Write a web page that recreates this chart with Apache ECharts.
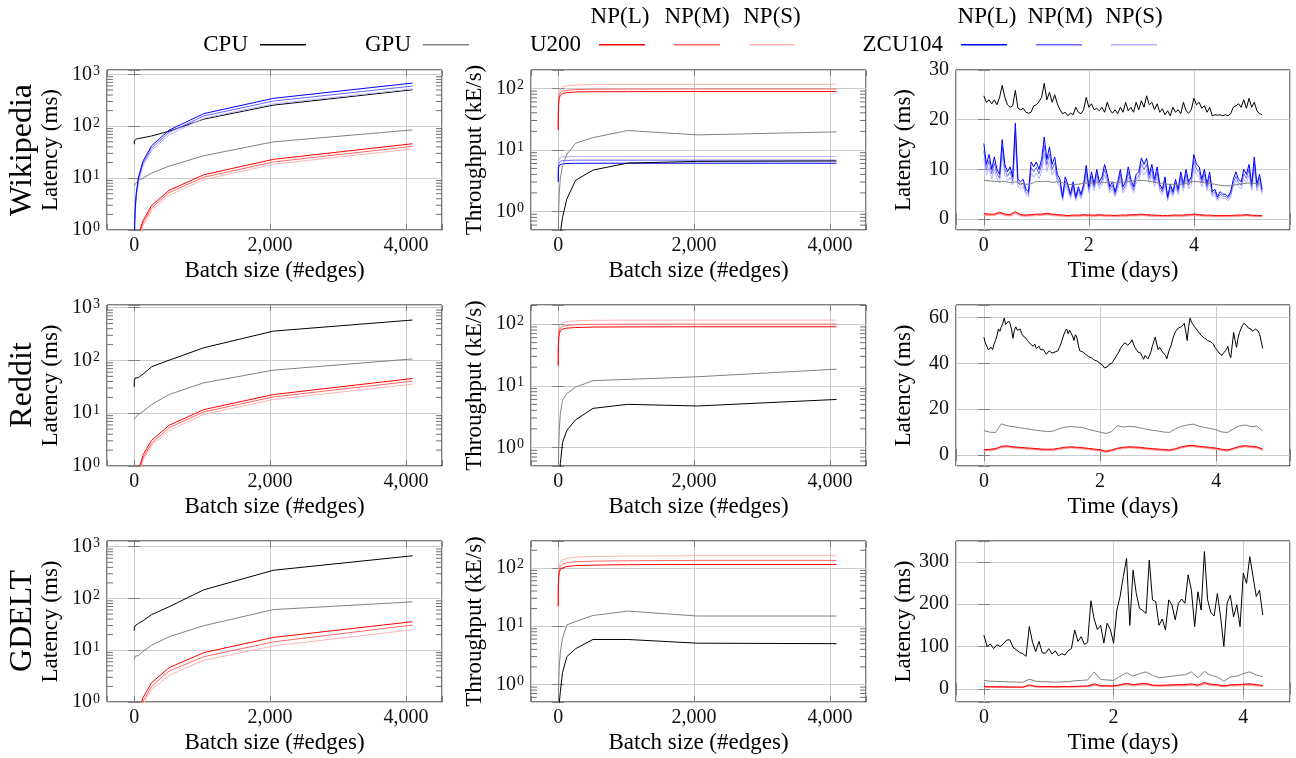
<!DOCTYPE html>
<html><head><meta charset="utf-8">
<script src="https://cdn.jsdelivr.net/npm/echarts@6/dist/echarts.min.js"></script>
<style>html,body{margin:0;padding:0;background:#fff}#c{width:1296px;height:758px}</style>
</head><body><div id="c"></div>
<script>
// ---------------- data ----------------
const batch = [1, 2, 4, 8, 16, 32, 64, 128, 256, 512, 1024, 2048, 4096];

// Wikipedia latency (ms)
const wikiLatCPU   = [45, 52, 54, 55, 56, 57, 58, 60, 65, 80, 137, 255, 505];
const wikiLatGPU   = [7.0, 7.1, 7.2, 7.4, 7.7, 8.2, 9.0, 10.0, 12.5, 17, 27, 50, 85];
const wikiLatU200L = [0.05, 0.07, 0.09, 0.14, 0.23, 0.42, 0.8, 1.5, 2.95, 5.8, 11.6, 23, 46];
const wikiLatU200M = [0.045, 0.06, 0.08, 0.12, 0.21, 0.38, 0.72, 1.35, 2.65, 5.25, 10.4, 20.5, 41];
const wikiLatU200S = [0.04, 0.055, 0.07, 0.11, 0.19, 0.34, 0.64, 1.2, 2.35, 4.65, 9.3, 18.5, 36.5];
const wikiLatZCUL  = [0.33, 0.5, 0.85, 1.5, 2.8, 5.3, 10.5, 21, 42, 84, 175, 345, 680];
const wikiLatZCUM  = [0.32, 0.47, 0.78, 1.4, 2.6, 4.9, 9.6, 19, 38, 76, 158, 305, 595];
const wikiLatZCUS  = [0.3, 0.43, 0.7, 1.25, 2.3, 4.4, 8.6, 17, 34, 68, 143, 270, 525];
// Wikipedia throughput (kE/s)
const wikiTpCPU   = [0.02, 0.04, 0.08, 0.15, 0.28, 0.45, 0.8, 1.6, 3.2, 4.7, 6.1, 6.5, 6.6];
const wikiTpGPU   = [0.14, 0.28, 0.55, 1.1, 2.0, 3.5, 5.5, 8.5, 12.8, 15.8, 20.6, 17.5, 19.6];
const wikiTpU200L = [21, 33, 47, 60, 70, 77, 82, 85, 87, 88, 88, 88.5, 88.5];
const wikiTpU200M = [21.5, 35, 51, 66, 77, 85, 90, 93, 95, 96.5, 97, 97.5, 97.5];
const wikiTpU200S = [22, 37, 56, 74, 88, 98, 105, 110, 113, 115, 116, 116, 116];
const wikiTpZCUL  = [3.0, 4.0, 4.8, 5.3, 5.6, 5.8, 5.9, 6.0, 6.05, 6.07, 6.07, 6.07, 6.07];
const wikiTpZCUM  = [3.1, 4.3, 5.3, 5.9, 6.3, 6.5, 6.7, 6.75, 6.8, 6.8, 6.8, 6.8, 6.8];
const wikiTpZCUS  = [3.2, 4.7, 6.0, 6.8, 7.3, 7.6, 7.7, 7.75, 7.8, 7.8, 7.8, 7.8, 7.8];

// Reddit latency (ms)
const redLatCPU   = [31.6, 42, 45, 46, 46.5, 47, 47.5, 55, 76, 101, 174, 360, 584];
const redLatGPU   = [7.6, 7.7, 7.8, 8.0, 8.3, 8.8, 9.5, 10.8, 14.6, 22.6, 37.7, 65.5, 107];
const redLatU200L = [0.05, 0.07, 0.09, 0.14, 0.23, 0.42, 0.8, 1.6, 3.07, 5.9, 11.7, 22.6, 45.5];
const redLatU200M = [0.045, 0.06, 0.08, 0.12, 0.21, 0.38, 0.72, 1.42, 2.7, 5.3, 10.6, 20.4, 40.5];
const redLatU200S = [0.04, 0.055, 0.07, 0.11, 0.19, 0.34, 0.64, 1.27, 2.45, 4.7, 9.5, 18.2, 35.5];
// Reddit throughput (kE/s)
const redTpCPU   = [0.03, 0.05, 0.09, 0.17, 0.3, 0.55, 1.2, 1.9, 2.8, 4.3, 5.0, 4.7, 6.0];
const redTpGPU   = [0.13, 0.26, 0.5, 1.0, 1.9, 3.6, 5.8, 7.5, 9.5, 12.1, 12.7, 14.0, 18.6];
const redTpU200L = [21, 33, 47, 60, 70, 78, 83, 86, 88, 89.5, 90, 90.5, 90.5];
const redTpU200M = [21.5, 35, 51, 66, 78, 86, 92, 95, 97.5, 99, 100, 100, 100];
const redTpU200S = [22, 37, 56, 74, 89, 99, 106, 110, 113, 115, 116, 116, 116];

// GDELT latency (ms)
const gdLatCPU   = [23.8, 27, 28, 29, 30, 31, 33, 37, 48.7, 69, 147, 351, 668];
const gdLatGPU   = [6.7, 7.0, 7.3, 7.5, 7.7, 7.8, 7.9, 9.5, 12.5, 18.2, 29.8, 61, 86];
const gdLatU200L = [0.04, 0.05, 0.07, 0.11, 0.18, 0.33, 0.62, 1.2, 2.35, 4.6, 9.0, 17.7, 35.6];
const gdLatU200M = [0.035, 0.045, 0.06, 0.09, 0.15, 0.28, 0.53, 1.02, 2.0, 3.96, 7.5, 14.5, 30.7];
const gdLatU200S = [0.03, 0.04, 0.05, 0.08, 0.13, 0.24, 0.45, 0.88, 1.74, 3.26, 6.4, 12.1, 24.9];
// GDELT throughput (kE/s)
const gdTpCPU   = [0.04, 0.07, 0.14, 0.26, 0.48, 0.75, 1.6, 3.0, 4.1, 5.9, 5.9, 5.1, 5.0];
const gdTpGPU   = [0.15, 0.29, 0.55, 1.05, 2.0, 3.6, 6.2, 10.5, 12.0, 15.2, 18.1, 14.9, 14.9];
const gdTpU200L = [22, 36, 53, 70, 83, 93, 100, 105, 109, 111, 113, 114, 114];
const gdTpU200M = [22, 37, 57, 77, 94, 106, 115, 122, 127, 130, 132, 134, 134];
const gdTpU200S = [22, 39, 61, 85, 107, 124, 136, 145, 152, 156, 159, 161, 161];

// Time series (latency in ms), sampling step in days
const wikiStepFine = 0.05, wikiStepCoarse = 0.1;
const wikiTimeCPU = [24.8, 23.5, 24.0, 23.2, 24.0, 23.0, 24.5, 26.9, 24.5, 23.0,
  22.5, 22.8, 25.9, 22.3, 22.0, 22.3, 21.5, 21.3, 21.5, 22.8,
  23.0, 23.6, 24.5, 27.3, 24.0, 25.5, 23.5, 25.0, 23.2, 22.0,
  21.2, 21.5, 20.8, 21.3, 21.0, 22.5, 21.5, 21.2, 22.0, 24.5,
  22.5, 23.2, 22.0, 22.3, 21.8, 22.5, 21.5, 23.5, 22.0, 21.3,
  22.0, 21.2, 22.5, 21.5, 23.5, 21.8, 22.5, 21.5, 23.5, 22.0,
  23.8, 22.5, 24.8, 23.0, 23.5, 22.0, 23.2, 21.5, 22.2, 21.0,
  21.8, 20.8, 22.5, 21.5, 22.0, 21.2, 23.5, 21.8, 21.3, 22.0,
  24.3, 23.0, 23.5, 22.3, 22.8, 21.5, 22.5, 20.8, 21.0, 20.9,
  21.0, 20.8, 21.0, 20.8, 21.2, 22.5, 22.8, 23.2, 22.5, 24.0,
  22.3, 24.3, 22.5, 23.5, 21.8, 21.2, 21.0];
const wikiTimeZCUL = [15.2, 11, 13, 10, 12.5, 10, 9, 16, 11, 9.5,
  10.5, 8.5, 19.3, 8, 7.5, 8, 6, 5.5, 11.5, 10.5,
  11.5, 10, 12, 16.5, 12, 14.5, 11, 12.5, 9, 8,
  4.5, 8.5, 7, 5, 7.5, 4.5, 6.5, 5, 7, 10.8,
  6.5, 9.5, 7, 10, 7.5, 8.5, 11, 9, 6.5, 7.5,
  5.5, 7.5, 10, 6.5, 7.5, 10.5, 8, 6.5, 9, 9.5,
  12.3, 11, 12.2, 9, 11, 8, 10.5, 7, 6, 8.5,
  4.5, 7, 5.5, 8, 6, 9.5, 7, 10, 7.5, 8.5,
  13, 11, 10.5, 8, 10, 7, 9.5, 5.5, 6, 4.5,
  5.5, 5, 5, 4.5, 5.5, 8, 9.5, 8, 7.5, 10,
  9, 11, 7, 12.5, 7, 9, 6];
const wikiTimeZCUM = [13.8, 10, 11.8, 9.1, 11.3, 9.1, 8.2, 14.5, 10, 8.6,
  9.5, 7.7, 17.4, 7.3, 6.8, 7.3, 5.5, 5, 10.4, 9.5,
  10.4, 9.1, 10.9, 14.9, 10.9, 13.1, 10, 11.3, 8.2, 7.3,
  4.1, 7.7, 6.4, 4.6, 6.8, 4.1, 5.9, 4.6, 6.4, 9.8,
  5.9, 8.6, 6.4, 9.1, 6.8, 7.7, 10, 8.2, 5.9, 6.8,
  5, 6.8, 9.1, 5.9, 6.8, 9.5, 7.3, 5.9, 8.2, 8.6,
  11.1, 10, 11, 8.2, 10, 7.3, 9.5, 6.4, 5.5, 7.7,
  4.1, 6.4, 5, 7.3, 5.5, 8.6, 6.4, 9.1, 6.8, 7.7,
  11.8, 10, 9.5, 7.3, 9.1, 6.4, 8.6, 5, 5.5, 4.1,
  5, 4.6, 4.6, 4.1, 5, 7.3, 8.6, 7.3, 6.8, 9.1,
  8.2, 10, 6.4, 11.3, 6.4, 8.2, 5.5];
const wikiTimeZCUS = [12.2, 8.9, 10.4, 8.1, 10, 8.1, 7.3, 12.8, 8.9, 7.7,
  8.4, 6.9, 15.3, 6.5, 6.1, 6.5, 4.9, 4.5, 9.2, 8.4,
  9.2, 8.1, 9.6, 13.2, 9.6, 11.6, 8.9, 10, 7.3, 6.5,
  3.7, 6.9, 5.7, 4.1, 6.1, 3.7, 5.3, 4.1, 5.7, 8.7,
  5.3, 7.7, 5.7, 8.1, 6.1, 6.9, 8.9, 7.3, 5.3, 6.1,
  4.5, 6.1, 8.1, 5.3, 6.1, 8.4, 6.5, 5.3, 7.3, 7.7,
  9.8, 8.9, 9.8, 7.3, 8.9, 6.5, 8.4, 5.7, 4.9, 6.9,
  3.7, 5.7, 4.5, 6.5, 4.9, 7.7, 5.7, 8.1, 6.1, 6.9,
  10.4, 8.9, 8.4, 6.5, 8.1, 5.7, 7.7, 4.5, 4.9, 3.7,
  4.5, 4.1, 4.1, 3.7, 4.5, 6.5, 7.7, 6.5, 6.1, 8.1,
  7.3, 8.9, 5.7, 10, 5.7, 7.3, 4.9];
const wikiTimeGPU = [7.8, 7.7, 7.6, 7.5, 7.6, 7.3, 7.5, 7.2, 7.0, 7.1,
  7.6, 7.5, 7.6, 7.4, 7.5, 7.3, 6.9, 7.0, 7.0, 7.2,
  7.3, 7.2, 7.4, 7.3, 7.5, 7.3, 7.4, 7.5, 7.6, 7.8,
  7.8, 7.7, 7.5, 7.3, 7.2, 7.0, 7.0, 6.9, 7.1, 7.3,
  7.6, 7.5, 7.3, 7.2, 7.0, 6.8, 6.7, 6.7, 6.9, 7.1,
  7.2, 7.3, 7.1, 7.0];
const wikiTimeU200L = [1.1, 1.0, 1.0, 1.4, 1.0, 0.9, 1.5, 0.9, 0.8, 0.9,
  1.0, 1.0, 1.2, 1.0, 0.9, 0.8, 0.7, 0.8, 0.8, 0.9,
  0.8, 0.8, 0.9, 0.8, 0.8, 0.7, 0.8, 0.8, 0.9, 0.9,
  1.0, 0.9, 0.8, 0.8, 0.7, 0.7, 0.8, 0.8, 0.8, 0.9,
  1.0, 0.9, 0.8, 0.8, 0.7, 0.7, 0.7, 0.7, 0.8, 0.8,
  0.9, 0.8, 0.7, 0.7];
const wikiTimeU200M = [0.9, 0.85, 0.85, 1.2, 0.85, 0.75, 1.3, 0.75, 0.65, 0.75,
  0.85, 0.85, 1.0, 0.85, 0.75, 0.65, 0.6, 0.65, 0.65, 0.75,
  0.65, 0.65, 0.75, 0.65, 0.65, 0.6, 0.65, 0.65, 0.75, 0.75,
  0.85, 0.75, 0.65, 0.65, 0.6, 0.6, 0.65, 0.65, 0.65, 0.75,
  0.85, 0.75, 0.65, 0.65, 0.6, 0.6, 0.6, 0.6, 0.65, 0.65,
  0.75, 0.65, 0.6, 0.6];
const wikiTimeU200S = [0.75, 0.7, 0.7, 1.0, 0.7, 0.6, 1.1, 0.6, 0.55, 0.6,
  0.7, 0.7, 0.85, 0.7, 0.6, 0.55, 0.5, 0.55, 0.55, 0.6,
  0.55, 0.55, 0.6, 0.55, 0.55, 0.5, 0.55, 0.55, 0.6, 0.6,
  0.7, 0.6, 0.55, 0.55, 0.5, 0.5, 0.55, 0.55, 0.55, 0.6,
  0.7, 0.6, 0.55, 0.55, 0.5, 0.5, 0.5, 0.5, 0.55, 0.55,
  0.6, 0.55, 0.5, 0.5];

const redStepCPU = 0.025, redStepCoarse = 0.1;
const redTimeCPU = [51.5, 49.0, 47.5, 46.0, 45.5, 47.0, 46.0, 48.5, 50.0, 52.0,
  55.0, 54.0, 56.0, 57.5, 59.8, 57.0, 56.5, 58.5, 57.5, 55.0,
  51.0, 54.5, 56.0, 54.5, 54.0, 55.0, 53.0, 52.0, 51.5, 51.0,
  50.0, 49.5, 48.5, 48.0, 47.5, 48.5, 46.5, 47.0, 47.5, 46.0,
  45.5, 46.0, 45.0, 44.0, 44.5, 45.5, 45.2, 44.5, 44.0, 45.0,
  44.5, 45.5, 47.0, 48.5, 50.5, 52.5, 54.0, 55.0, 53.0, 54.5,
  55.3, 52.0, 50.0, 52.5, 51.5, 48.0, 45.5, 46.0, 45.0, 44.5,
  44.0, 43.5, 43.0, 43.5, 42.5, 42.0, 41.5, 42.0, 41.0, 40.5,
  40.0, 39.5, 39.0, 38.0, 37.5, 38.5, 39.5, 39.0, 40.0, 41.0,
  41.5, 43.0, 44.0, 45.0, 46.5, 47.5, 48.0, 49.0, 48.5, 48.0,
  47.5, 49.0, 50.3, 48.5, 47.0, 46.0, 45.0, 45.5, 44.5, 43.0,
  41.8, 43.5, 43.0, 42.0, 42.5, 45.0, 47.5, 49.5, 51.5, 48.5,
  46.0, 47.0, 46.5, 45.0, 45.5, 43.5, 42.0, 44.5, 46.5, 48.0,
  50.5, 52.5, 54.0, 54.5, 55.5, 55.0, 56.0, 56.5, 57.5, 54.0,
  50.0, 56.0, 59.8, 58.0, 57.0, 56.0, 55.5, 54.5, 53.5, 53.0,
  52.0, 51.5, 51.0, 51.5, 50.0, 50.5, 49.5, 49.0, 48.5, 47.0,
  46.5, 45.5, 44.5, 44.0, 43.5, 44.5, 44.0, 46.0, 47.5, 44.0,
  42.5, 48.0, 53.5, 50.0, 47.0, 51.0, 53.5, 55.0, 56.5, 57.5,
  58.0, 56.5, 55.5, 55.0, 55.0, 54.0, 54.5, 55.0, 55.5, 54.0,
  52.5, 49.5, 46.5];
const redTimeGPU = [10.6, 10.0, 9.8, 13.6, 12.8, 12.4, 12.0, 11.6, 11.2, 10.8,
  10.5, 10.2, 10.5, 11.5, 12.2, 12.4, 12.2, 12.0, 11.2, 10.6,
  10.0, 9.4, 10.2, 12.8, 12.2, 12.5, 12.3, 11.8, 11.2, 10.8,
  10.5, 10.0, 9.9, 11.5, 12.5, 13.1, 13.5, 12.6, 12.0, 11.6,
  11.0, 10.0, 9.9, 11.5, 12.7, 13.1, 12.4, 12.6, 10.5];
const redTimeU200L = [2.3, 2.5, 2.8, 3.8, 4.0, 3.6, 3.4, 3.2, 3.0, 2.8,
  2.6, 2.5, 2.6, 3.0, 3.4, 3.6, 3.4, 3.2, 2.9, 2.6,
  2.3, 1.7, 2.2, 3.0, 3.4, 3.6, 3.5, 3.3, 3.0, 2.8,
  2.6, 2.4, 2.2, 2.8, 3.6, 4.1, 4.2, 3.8, 3.6, 3.3,
  3.0, 2.5, 2.2, 3.0, 3.8, 4.1, 3.8, 3.6, 2.6];
const redTimeU200M = [2.0, 2.2, 2.5, 3.5, 3.7, 3.3, 3.1, 2.9, 2.7, 2.5,
  2.3, 2.2, 2.3, 2.7, 3.1, 3.3, 3.1, 2.9, 2.6, 2.3,
  2.0, 1.4, 1.9, 2.7, 3.1, 3.3, 3.2, 3.0, 2.7, 2.5,
  2.3, 2.1, 1.9, 2.5, 3.3, 3.8, 3.9, 3.5, 3.3, 3.0,
  2.7, 2.2, 1.9, 2.7, 3.5, 3.8, 3.5, 3.3, 2.3];
const redTimeU200S = [1.7, 1.9, 2.2, 3.2, 3.4, 3.0, 2.8, 2.6, 2.4, 2.2,
  2.0, 1.9, 2.0, 2.4, 2.8, 3.0, 2.8, 2.6, 2.3, 2.0,
  1.7, 1.1, 1.6, 2.4, 2.8, 3.0, 2.9, 2.7, 2.4, 2.2,
  2.0, 1.8, 1.6, 2.2, 3.0, 3.5, 3.6, 3.2, 3.0, 2.7,
  2.4, 1.9, 1.6, 2.4, 3.2, 3.5, 3.2, 3.0, 2.0];

const gdStepFine = 0.05, gdStepCoarse = 0.1;
const gdTimeCPU = [127, 100, 106, 95, 104, 100, 106, 115, 116, 98,
  92, 86, 83, 77, 147, 110, 88, 112, 85, 84,
  95, 82, 90, 78, 83, 80, 90, 95, 139, 112,
  123, 105, 110, 208, 165, 140, 150, 108, 155, 140,
  108, 186, 218, 265, 308, 150, 280, 225, 190, 185,
  178, 304, 210, 206, 150, 165, 139, 210, 198, 163,
  202, 212, 202, 269, 233, 147, 229, 186, 324, 210,
  180, 172, 225, 170, 100, 202, 221, 170, 198, 147,
  273, 249, 312, 265, 218, 233, 174];
const gdTimeGPU = [19.6, 18, 17.5, 17, 16.5, 16, 15.5, 23, 18, 17,
  16.5, 16, 16.5, 17, 19, 20, 21, 40, 22, 21,
  20, 30, 38, 30, 36, 40, 32, 26, 28, 30,
  32, 33, 40, 26, 41, 32, 28, 18, 28, 30,
  36, 40, 33, 29];
const gdTimeU200L = [5.5, 5, 5, 4.8, 4.5, 4.5, 4.2, 9.4, 6, 5.5,
  5.5, 5, 5.5, 5.5, 6, 6.5, 7, 11.8, 7.5, 7.5,
  7, 10, 13, 10, 12, 13, 9, 8.5, 9, 9.5,
  10, 10, 12, 9, 15, 11, 10, 7, 9.5, 10,
  11, 12, 10, 8];
const gdTimeU200M = [4.7, 4.3, 4.3, 4.1, 3.8, 3.8, 3.6, 8, 5.1, 4.7,
  4.7, 4.3, 4.7, 4.7, 5.1, 5.5, 6, 10, 6.4, 6.4,
  6, 8.5, 11, 8.5, 10.2, 11, 7.7, 7.2, 7.7, 8.1,
  8.5, 8.5, 10.2, 7.7, 12.8, 9.4, 8.5, 6, 8.1, 8.5,
  9.4, 10.2, 8.5, 6.8];
const gdTimeU200S = [3.9, 3.5, 3.5, 3.4, 3.2, 3.2, 2.9, 6.6, 4.2, 3.9,
  3.9, 3.5, 3.9, 3.9, 4.2, 4.6, 4.9, 8.3, 5.3, 5.3,
  4.9, 7, 9.1, 7, 8.4, 9.1, 6.3, 6, 6.3, 6.7,
  7, 7, 8.4, 6.3, 10.5, 7.7, 7, 4.9, 6.7, 7,
  7.7, 8.4, 7, 5.6];

const rowNames = ['Wikipedia', 'Reddit', 'GDELT'];

// ---------------- chart ----------------
const FONT = '"Liberation Serif","Times New Roman",serif';
const COLORS = {
  'CPU': '#000000', 'GPU': '#808080',
  'U200 NP(L)': '#ff0000', 'U200 NP(M)': '#ff6666', 'U200 NP(S)': '#ffb3b3',
  'ZCU104 NP(L)': '#0000ff', 'ZCU104 NP(M)': '#6666ff', 'ZCU104 NP(S)': '#b3b3ff'
};
const colL = [107, 531, 956], colW = [335, 335, 334];
const rowT = [70, 305, 541], rowH = [160, 161, 161];

const grids = [], xAxes = [], yAxes = [], series = [];
const tickStyle = {show: true, inside: true, length: 6, lineStyle: {color: '#808080', width: 1}};
const gridLine = {show: true, lineStyle: {color: '#cccccc', width: 1}};

function times(n, step) { return Array.from({length: n}, (_, i) => Math.round(i * step * 1000) / 1000); }
function commas(v) { return String(v).replace(/\B(?=(\d{3})+(?!\d))/g, ','); }
function onStep(v, s) { return Math.abs(v / s - Math.round(v / s)) < 1e-7; }

// log-axis minor tick positions (2..9 times each power of ten)
const minorVals = [];
for (let k = -1; k <= 3; k++) for (let m = 2; m <= 9; m++) minorVals.push(+(m * Math.pow(10, k)).toPrecision(3));

function addPanel(r, c, xc, yc, lines) {
  const gi = grids.length;
  grids.push({left: colL[c], top: rowT[r], width: colW[c], height: rowH[r], show: true,
    borderColor: '#000', borderWidth: 1, containLabel: false, outerBoundsMode: 'none'});
  const xBase = {type: 'value', gridIndex: gi, min: xc.min, max: xc.max, splitNumber: xc.split};
  xAxes.push(Object.assign({}, xBase, {
    position: 'bottom', axisLine: {show: false}, axisTick: tickStyle, splitLine: gridLine,
    axisLabel: {fontFamily: FONT, fontSize: 20, color: '#111', margin: 6,
      formatter: v => (v >= 0 && onStep(v, xc.step)) ? (xc.comma ? commas(v) : String(v)) : ''},
    name: xc.name, nameLocation: 'middle', nameGap: 29,
    nameTextStyle: {fontFamily: FONT, fontSize: 23, color: '#000'}
  }));
  xAxes.push(Object.assign({}, xBase, {
    position: 'top', axisLine: {show: false}, axisTick: tickStyle, splitLine: {show: false}, axisLabel: {show: false}
  }));
  const yBase = yc.log ? {type: 'log', logBase: 10, gridIndex: gi, min: yc.min, max: yc.max}
                       : {type: 'value', gridIndex: gi, min: yc.min, max: yc.max, splitNumber: 3};
  const yFmt = yc.log
    ? (v => { const e = Math.log10(v), rr = Math.round(e); return Math.abs(e - rr) < 1e-6 ? '{b|10}{s|' + rr + '}' : ''; })
    : (v => onStep(v, yc.step) ? String(Math.round(v)) : '');
  yAxes.push(Object.assign({}, yBase, {
    position: 'left', axisLine: {show: false}, axisTick: tickStyle, splitLine: gridLine,
    axisLabel: {fontFamily: FONT, fontSize: 20, color: '#111', margin: 7, formatter: yFmt,
      rich: {b: {fontFamily: FONT, fontSize: 20, color: '#111'},
             s: {fontFamily: FONT, fontSize: 14, color: '#111', verticalAlign: 'top', padding: [0, 0, 0, 1]}}},
    name: yc.name, nameLocation: 'middle', nameGap: yc.gap, nameRotate: 90,
    nameTextStyle: {fontFamily: FONT, fontSize: 23, color: '#000'}
  }));
  yAxes.push(Object.assign({}, yBase, {
    position: 'right', axisLine: {show: false}, axisTick: tickStyle, splitLine: {show: false}, axisLabel: {show: false}
  }));
  const ax = 2 * gi;
  if (yc.log) {
    const inRange = minorVals.filter(v => v > yc.min && v < yc.max);
    series.push({type: 'custom', coordinateSystem: 'cartesian2d', xAxisIndex: ax, yAxisIndex: ax,
      silent: true, clip: false, z: 4, animation: false,
      data: inRange.map(v => [xc.min, v]),
      renderItem: (params, api) => {
        const v = api.value(1);
        const pl = api.coord([xc.min, v]);
        const pr = api.coord([xc.max, v]);
        return {type: 'group', children: [
          {type: 'line', shape: {x1: pl[0], y1: pl[1], x2: pl[0] + 6, y2: pl[1]}, style: {stroke: '#707070', lineWidth: 1}},
          {type: 'line', shape: {x1: pr[0] - 6, y1: pr[1], x2: pr[0], y2: pr[1]}, style: {stroke: '#707070', lineWidth: 1}}
        ]};
      }});
  }
  lines.forEach(([name, xs, ys]) => {
    series.push({type: 'line', name, xAxisIndex: ax, yAxisIndex: ax,
      data: ys.map((y, i) => [xs[i], y]),
      showSymbol: false, symbol: 'none', animation: false, z: 3,
      lineStyle: {color: COLORS[name], width: 1}, itemStyle: {color: COLORS[name]}});
  });
}

const bx = {min: -400, max: 4530, split: 2, step: 2000, comma: true, name: 'Batch size (#edges)'};

// Row 1: Wikipedia
addPanel(0, 0, bx, {log: true, min: 1, max: 1214, name: 'Latency (ms)', gap: 45}, [
  ['U200 NP(S)', batch, wikiLatU200S], ['U200 NP(M)', batch, wikiLatU200M], ['U200 NP(L)', batch, wikiLatU200L],
  ['GPU', batch, wikiLatGPU], ['CPU', batch, wikiLatCPU],
  ['ZCU104 NP(S)', batch, wikiLatZCUS], ['ZCU104 NP(M)', batch, wikiLatZCUM], ['ZCU104 NP(L)', batch, wikiLatZCUL]]);
addPanel(0, 1, bx, {log: true, min: 0.5, max: 198, name: 'Throughput (kE/s)', gap: 45}, [
  ['U200 NP(S)', batch, wikiTpU200S], ['U200 NP(M)', batch, wikiTpU200M], ['U200 NP(L)', batch, wikiTpU200L],
  ['ZCU104 NP(S)', batch, wikiTpZCUS], ['ZCU104 NP(M)', batch, wikiTpZCUM], ['ZCU104 NP(L)', batch, wikiTpZCUL],
  ['GPU', batch, wikiTpGPU], ['CPU', batch, wikiTpCPU]]);
addPanel(0, 2, {min: -0.53, max: 5.83, split: 3, step: 2, name: 'Time (days)'},
  {log: false, min: -2.2, max: 30, step: 10, name: 'Latency (ms)', gap: 41}, [
  ['U200 NP(S)', times(wikiTimeU200S.length, wikiStepCoarse), wikiTimeU200S],
  ['U200 NP(M)', times(wikiTimeU200M.length, wikiStepCoarse), wikiTimeU200M],
  ['U200 NP(L)', times(wikiTimeU200L.length, wikiStepCoarse), wikiTimeU200L],
  ['ZCU104 NP(S)', times(wikiTimeZCUS.length, wikiStepFine), wikiTimeZCUS],
  ['ZCU104 NP(M)', times(wikiTimeZCUM.length, wikiStepFine), wikiTimeZCUM],
  ['ZCU104 NP(L)', times(wikiTimeZCUL.length, wikiStepFine), wikiTimeZCUL],
  ['GPU', times(wikiTimeGPU.length, wikiStepCoarse), wikiTimeGPU],
  ['CPU', times(wikiTimeCPU.length, wikiStepFine), wikiTimeCPU]]);

// Row 2: Reddit
addPanel(1, 0, bx, {log: true, min: 1, max: 1125, name: 'Latency (ms)', gap: 45}, [
  ['U200 NP(S)', batch, redLatU200S], ['U200 NP(M)', batch, redLatU200M], ['U200 NP(L)', batch, redLatU200L],
  ['GPU', batch, redLatGPU], ['CPU', batch, redLatCPU]]);
addPanel(1, 1, bx, {log: true, min: 0.5, max: 204, name: 'Throughput (kE/s)', gap: 45}, [
  ['U200 NP(S)', batch, redTpU200S], ['U200 NP(M)', batch, redTpU200M], ['U200 NP(L)', batch, redTpU200L],
  ['GPU', batch, redTpGPU], ['CPU', batch, redTpCPU]]);
addPanel(1, 2, {min: -0.48, max: 5.27, split: 3, step: 2, name: 'Time (days)'},
  {log: false, min: -4.8, max: 65.5, step: 20, name: 'Latency (ms)', gap: 41}, [
  ['U200 NP(S)', times(redTimeU200S.length, redStepCoarse), redTimeU200S],
  ['U200 NP(M)', times(redTimeU200M.length, redStepCoarse), redTimeU200M],
  ['U200 NP(L)', times(redTimeU200L.length, redStepCoarse), redTimeU200L],
  ['GPU', times(redTimeGPU.length, redStepCoarse), redTimeGPU],
  ['CPU', times(redTimeCPU.length, redStepCPU), redTimeCPU]]);

// Row 3: GDELT
addPanel(2, 0, bx, {log: true, min: 1, max: 1290, name: 'Latency (ms)', gap: 45}, [
  ['U200 NP(S)', batch, gdLatU200S], ['U200 NP(M)', batch, gdLatU200M], ['U200 NP(L)', batch, gdLatU200L],
  ['GPU', batch, gdLatGPU], ['CPU', batch, gdLatCPU]]);
addPanel(2, 1, bx, {log: true, min: 0.5, max: 288, name: 'Throughput (kE/s)', gap: 45}, [
  ['U200 NP(S)', batch, gdTpU200S], ['U200 NP(M)', batch, gdTpU200M], ['U200 NP(L)', batch, gdTpU200L],
  ['GPU', batch, gdTpGPU], ['CPU', batch, gdTpCPU]]);
addPanel(2, 2, {min: -0.43, max: 4.72, split: 3, step: 2, name: 'Time (days)'},
  {log: false, min: -31, max: 349, step: 100, name: 'Latency (ms)', gap: 41}, [
  ['U200 NP(S)', times(gdTimeU200S.length, gdStepCoarse), gdTimeU200S],
  ['U200 NP(M)', times(gdTimeU200M.length, gdStepCoarse), gdTimeU200M],
  ['U200 NP(L)', times(gdTimeU200L.length, gdStepCoarse), gdTimeU200L],
  ['GPU', times(gdTimeGPU.length, gdStepCoarse), gdTimeGPU],
  ['CPU', times(gdTimeCPU.length, gdStepFine), gdTimeCPU]]);

// Legend: one component per entry (line icon only), with text placed separately
const legendIcons = [['CPU', 260], ['GPU', 423], ['U200 NP(L)', 599], ['U200 NP(M)', 674], ['U200 NP(S)', 749],
  ['ZCU104 NP(L)', 961], ['ZCU104 NP(M)', 1036], ['ZCU104 NP(S)', 1111]];
const legends = legendIcons.map(([n, x]) => ({
  data: [{name: n, icon: 'rect'}], left: x, top: 44, itemWidth: 46, itemHeight: 1.5, padding: 0, itemGap: 0,
  selectedMode: false, formatter: () => '', textStyle: {fontSize: 1}
}));

const txt = (x, y, s, size, align, rot) => ({type: 'text', x, y, rotation: rot || 0, silent: true,
  style: {text: s, font: size + 'px ' + FONT, fill: '#000', align, textAlign: align, verticalAlign: 'middle', textVerticalAlign: 'middle'}});
const graphics = [
  txt(248, 45, 'CPU', 23, 'right'), txt(411, 45, 'GPU', 23, 'right'),
  txt(581, 45, 'U200', 23, 'right'), txt(943, 45, 'ZCU104', 23, 'right'),
  txt(620, 17, 'NP(L)', 23, 'center'), txt(697, 17, 'NP(M)', 23, 'center'), txt(772, 17, 'NP(S)', 23, 'center'),
  txt(987, 17, 'NP(L)', 23, 'center'), txt(1060, 17, 'NP(M)', 23, 'center'), txt(1134, 17, 'NP(S)', 23, 'center'),
  txt(23, 150, rowNames[0], 32, 'center', Math.PI / 2),
  txt(23, 385, rowNames[1], 32, 'center', Math.PI / 2),
  txt(23, 621, rowNames[2], 32, 'center', Math.PI / 2)
];

const chart = echarts.init(document.getElementById('c'), null, {renderer: 'canvas'});
chart.setOption({
  animation: false, backgroundColor: '#fff',
  grid: grids, xAxis: xAxes, yAxis: yAxes, series, legend: legends, graphic: graphics
});
</script></body></html>
